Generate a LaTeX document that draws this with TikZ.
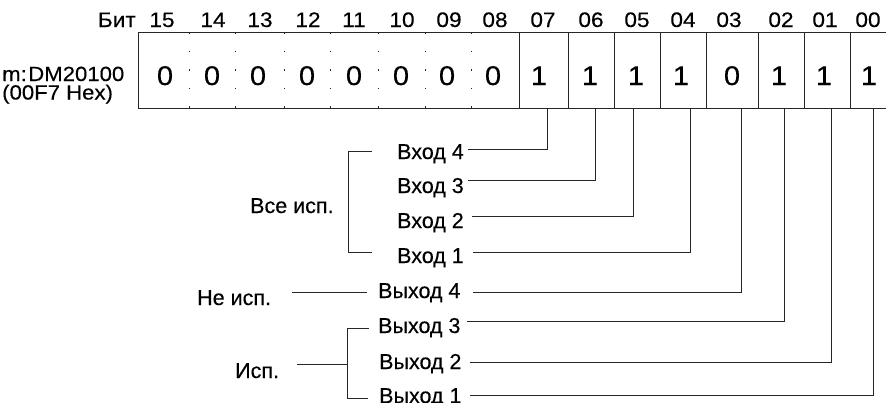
\documentclass[tikz,border=0pt]{standalone}
\usepackage{fontspec}
\setmainfont[FakeBold=0.25]{Liberation Sans}
\newfontfamily\widefont[FakeStretch=1.08,FakeBold=0.25]{Liberation Sans}
\begin{document}
\begin{tikzpicture}[x=1pt,y=-1pt,
  lbl/.style={inner sep=0pt, font=\fontsize{21.5}{21.5}\selectfont, anchor=base west},
  bitn/.style={inner sep=0pt, font=\widefont\fontsize{21}{21}\selectfont, anchor=base},
  dig/.style={inner sep=0pt, font=\widefont\fontsize{27}{27}\selectfont, anchor=base},
  ln/.style={line width=0.9pt, draw=black!85},
  dotdiv/.style={line width=1pt, draw=black!85, dash pattern=on 1.5pt off 17pt},
]
\useasboundingbox (0,0) rectangle (886,402);
\clip (0,0) rectangle (886,402);

% register box
\draw[ln] (888,32) -- (138,32) -- (138,108) -- (888,108);
\foreach \x in {189,235,284,330,378,425,471}
  \draw[dotdiv] (\x,32) -- (\x,108);
\foreach \x in {519,568,614,660,706,758,804,850}
  \draw[ln] (\x,32) -- (\x,108);

% bit numbers
\node[bitn, anchor=base east] (bit) at (136,27) {Бит};
\foreach \n/\x in {15/162,14/213,13/260,12/308,11/354,10/402,09/449,08/495,07/543,06/591,05/637,04/683,03/729,02/781,01/825,00/868}
  \node[bitn] (n\n) at (\x,27) {\n};

% digits
\foreach \n/\x/\v in {15/165/0,14/212/0,13/258/0,12/307/0,11/354/0,10/401/0,09/447/0,08/493/0,07/539/1,06/590/1,05/636/1,04/681/1,03/732/0,02/779/1,01/824/1,00/869/1}
  \node[dig] (c\n) at (\x,85) {\v};

% address
\node[inner sep=0pt, anchor=base west, font=\widefont\fontsize{20.5}{20.5}\selectfont] (addr) at (2,81) {m:\hspace{1.5pt}DM20100};
\node[inner sep=0pt, anchor=base west, font=\widefont\fontsize{20.5}{20.5}\selectfont] (hex) at (2,99.5) {(00F7 Hex)};

% labels
\node[lbl] (i4) at (397,159) {Вход 4};
\node[lbl] (i3) at (397,193) {Вход 3};
\node[lbl] (i2) at (397,228) {Вход 2};
\node[lbl] (i1) at (397,263) {Вход 1};
\node[lbl] (o4) at (378,298) {Выход 4};
\node[lbl] (o3) at (378,333) {Выход 3};
\node[lbl] (o2) at (379,369) {Выход 2};
\node[lbl] (o1) at (379,403) {Выход 1};
\node[lbl] (all) at (250,213) {Все исп.};
\node[lbl] (nu) at (197,305) {Не исп.};
\node[lbl] (us) at (235,378) {Исп.};

% bit drop points
\coordinate (d07) at (547,108);
\coordinate (d06) at (595,108);
\coordinate (d05) at (633,108);
\coordinate (d04) at (690,108);
\coordinate (d03) at (741,108);
\coordinate (d02) at (784,108);
\coordinate (d01) at (831,108);
\coordinate (d00) at (873,108);
% line ends at labels
\coordinate (e4) at (468,149);
\coordinate (e3) at (468,180);
\coordinate (e2) at (472,216);
\coordinate (e1) at (473,252);
\coordinate (f4) at (473,292);
\coordinate (f3) at (467,321);
\coordinate (f2) at (470,362);
\coordinate (f1) at (470,395);

\draw[ln] (d07) |- (e4);
\draw[ln] (d06) |- (e3);
\draw[ln] (d05) |- (e2);
\draw[ln] (d04) |- (e1);
\draw[ln] (d03) |- (f4);
\draw[ln] (d02) |- (f3);
\draw[ln] (d01) |- (f2);
\draw[ln] (d00) |- (f1);

% brackets
\coordinate (ba) at (372,151);
\coordinate (bb) at (372,252);
\draw[ln] (ba) -- (348,151) -- (348,252) -- (bb);

\coordinate (nua) at (292,292);
\coordinate (nub) at (367,292);
\draw[ln] (nua) -- (nub);

\coordinate (ua) at (369,328);
\coordinate (ub) at (368,398);
\coordinate (um) at (297,364);
\draw[ln] (ua) -- (347,328) -- (347,398) -- (ub);
\draw[ln] (um) -- (347,364);
\end{tikzpicture}
\end{document}
